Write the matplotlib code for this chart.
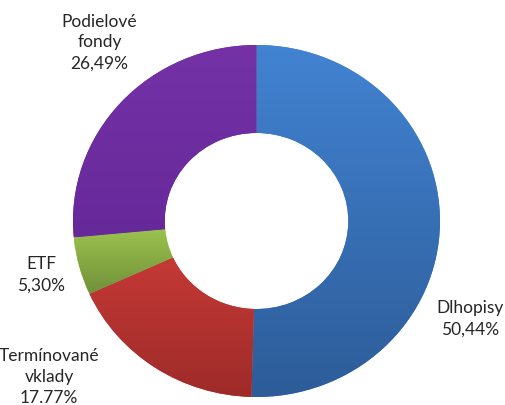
import numpy as np
import matplotlib
matplotlib.use("Agg")
import matplotlib.pyplot as plt
from matplotlib.colors import LinearSegmentedColormap

labels = ["Dlhopisy", "Termínované\nvklady", "ETF", "Podielové\nfondy"]
values = [50.44, 17.77, 5.30, 26.49]
value_texts = ["50,44%", "17.77%", "5,30%", "26,49%"]
top_colors = ["#4283D2", "#CE3D39", "#A0C850", "#7432A6"]
bottom_colors = ["#2D5C98", "#9E2B29", "#71903A", "#66299A"]

# label centres in data units (radius 1 = outer ring)
label_pos = [(1.165, -0.55), (-1.13, -0.88), (-1.175, -0.30), (-0.855, 1.02)]

plt.rcParams["font.family"] = ["Lato", "DejaVu Sans"]

fig = plt.figure(figsize=(5.06, 4.06), dpi=100)
ax = fig.add_axes([0, 0, 1, 1])

wedges, _ = ax.pie(values, startangle=90, counterclock=False, radius=1,
                   wedgeprops=dict(width=0.5, linewidth=0))

# vertical gradient per slice, light at top, dark at bottom
for w, c1, c2 in zip(wedges, top_colors, bottom_colors):
    path = w.get_path()
    verts = path.vertices
    y0, y1 = verts[:, 1].min(), verts[:, 1].max()
    x0, x1 = verts[:, 0].min(), verts[:, 0].max()
    cmap = LinearSegmentedColormap.from_list("g", [c2, c1])
    grad = np.linspace(0, 1, 256).reshape(-1, 1)
    im = ax.imshow(grad, extent=(x0, x1, y0, y1), origin="lower",
                   cmap=cmap, aspect="auto", zorder=2)
    im.set_clip_path(w)
    w.set_facecolor(c1)

for (x, y), lab, vt in zip(label_pos, labels, value_texts):
    ax.text(x, y, lab + "\n" + vt, ha="center", va="center",
            fontsize=12.5, color="#262626", linespacing=1.38)

ax.set_aspect("auto")
ax.set_xlim(-256.5 / 183.5, (506 - 256.5) / 183.5)
ax.set_ylim(-184 / 176, 222 / 176)
ax.axis("off")

fig.savefig("out.png", dpi=100)
